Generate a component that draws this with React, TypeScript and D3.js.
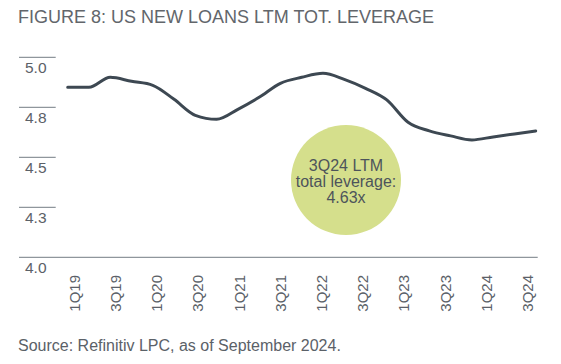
import React from 'react';
import * as d3 from 'd3';

// quarterly LTM total leverage, 1Q19 .. 3Q24
const quarters = [
  '1Q19', '2Q19', '3Q19', '4Q19',
  '1Q20', '2Q20', '3Q20', '4Q20',
  '1Q21', '2Q21', '3Q21', '4Q21',
  '1Q22', '2Q22', '3Q22', '4Q22',
  '1Q23', '2Q23', '3Q23', '4Q23',
  '1Q24', '2Q24', '3Q24'
];
const leverage = [
  4.85, 4.85, 4.90, 4.88,
  4.86, 4.79, 4.71, 4.69,
  4.74, 4.80, 4.87, 4.90,
  4.92, 4.89, 4.845, 4.787,
  4.675, 4.632, 4.607, 4.587,
  4.602, 4.617, 4.632
];
const xTickLabels = ['1Q19', '3Q19', '1Q20', '3Q20', '1Q21', '3Q21', '1Q22', '3Q22', '1Q23', '3Q23', '1Q24', '3Q24'];
const yTicks = [4.0, 4.25, 4.5, 4.75, 5.0];
const calloutLines = ['3Q24 LTM', 'total leverage:', '4.63x'];

const title = 'FIGURE 8: US NEW LOANS LTM TOT. LEVERAGE';
const source = 'Source: Refinitiv LPC, as of September 2024.';

const W = 561;
const H = 364;
const FONT = '"Liberation Sans", Arial, Helvetica, sans-serif';

export default function App() {
  const y = d3.scaleLinear().domain([4, 5]).range([257.3, 57.3]);
  const xLine = d3.scalePoint<string>().domain(quarters).range([67.7, 535.7]);
  const xLabel = d3.scalePoint<string>().domain(quarters).range([74.3, 527.7]);
  const fmt = d3.format('.1f');

  const line = d3.line<number>()
    .x((_, i) => xLine(quarters[i]) as number)
    .y(d => y(d))
    .curve(d3.curveMonotoneX);

  const bubble = { cx: 346, cy: 180, r: 55 };

  return (
    <svg
      width={W}
      height={H}
      style={{ position: 'absolute', left: 0, top: 0, display: 'block', background: '#fff' }}
      fontFamily={FONT}
    >
      <text x={18} y={23} fontSize={18} fill="#62666b">{title}</text>

      {/* y ticks: short rules with labels underneath, baseline runs full width */}
      {yTicks.map(t => (
        <g key={t}>
          <line
            x1={19}
            x2={t === 4 ? 537.7 : 55.7}
            y1={y(t)}
            y2={y(t)}
            stroke="#8f969c"
            strokeWidth={1.3}
          />
          <text x={25} y={y(t) + 15.5} fontSize={15.5} fill="#5b6168">{fmt(t)}</text>
        </g>
      ))}

      <circle cx={bubble.cx} cy={bubble.cy} r={bubble.r} fill="#d5df8c" />
      {calloutLines.map((s, i) => (
        <text
          key={s}
          x={bubble.cx}
          y={bubble.cy - 9 + i * 16}
          textAnchor="middle"
          fontSize={16}
          fill="#4d545b"
        >
          {s}
        </text>
      ))}

      <path
        d={line(leverage) || ''}
        fill="none"
        stroke="#3d4852"
        strokeWidth={3}
        strokeLinecap="round"
        strokeLinejoin="round"
      />

      {xTickLabels.map(q => (
        <text
          key={q}
          transform={`translate(${xLabel(q)},275) rotate(-90)`}
          textAnchor="end"
          dy="0.36em"
          fontSize={15}
          fill="#5b6168"
        >
          {q}
        </text>
      ))}

      <text x={18} y={351} fontSize={16} fill="#5b6168">{source}</text>
    </svg>
  );
}
